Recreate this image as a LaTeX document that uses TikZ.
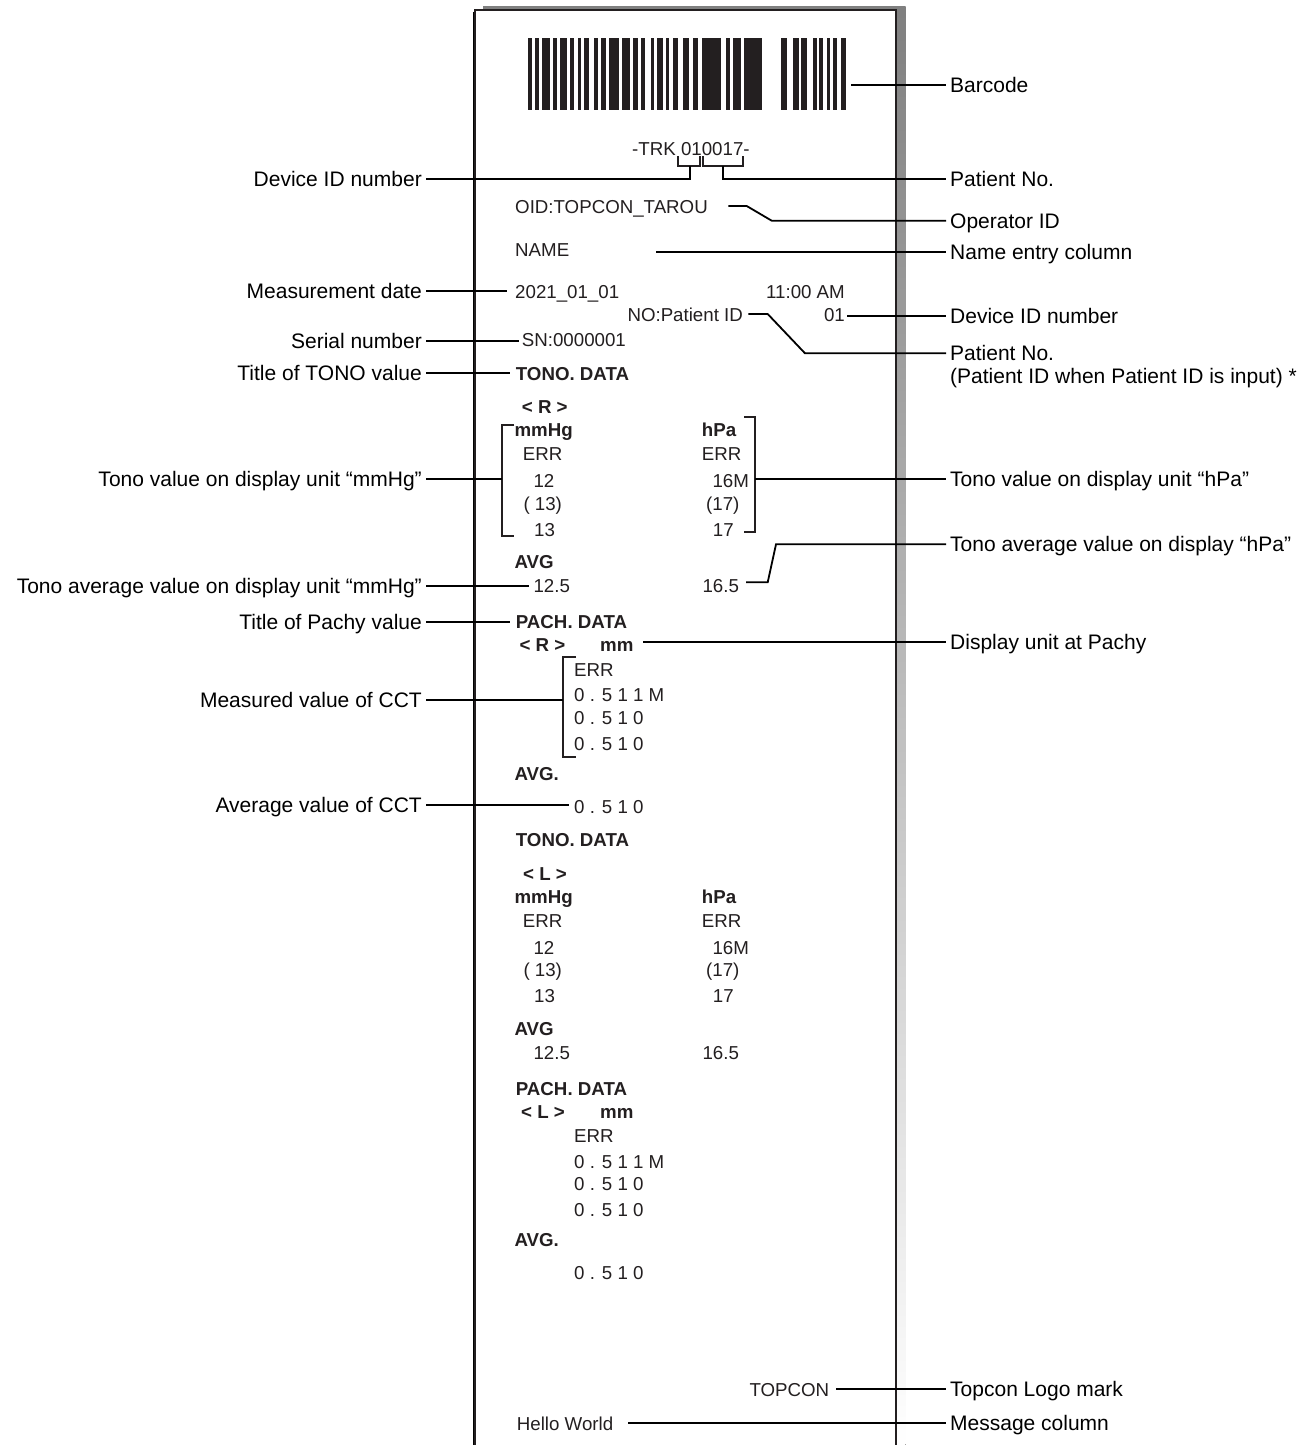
\documentclass[tikz,border=0pt]{standalone}
\usepackage{fontspec}
\setmainfont{Liberation Sans}
\definecolor{ink}{RGB}{35,31,32}
\definecolor{shade}{RGB}{153,154,158}
\begin{document}
\begin{tikzpicture}[x=1pt,y=-1pt,
  lbl/.style={font=\fontsize{21}{25}\selectfont, text=black, text height=15pt, text depth=0pt, inner ysep=0pt, inner xsep=4pt},
  rlab/.style={lbl, anchor=west},
  llab/.style={lbl, anchor=east},
  ptxt/.style={font=\fontsize{18.7}{22}\selectfont, text=ink, inner sep=0pt, anchor=base west},
  ptxte/.style={ptxt, anchor=base east},
  pbld/.style={ptxt, font=\fontsize{18.7}{22}\selectfont\bfseries},
  conn/.style={line width=1.8pt, black},
  brk/.style={line width=1.8pt, ink},
]
\useasboundingbox (0,0) rectangle (1313,1445);
% paper
\fill[shade] (483,6.7) rectangle (905.7,1445);
\fill[white] (474.5,10) rectangle (896,1445);
\draw[shade, line width=1pt] (473,12) -- (473,1445);
\draw[ink, line width=2pt] (474.5,1445) -- (474.5,10) -- (896,10) -- (896,1445);
% barcode
\foreach \a/\b in {528/532.3,535/539.3,542/550,552.7/557.3,560/566.7,570/574,578/581.3,584/588.7,594/598,600.7/606,608.7/618.7,622/630,632.7/638,641.3/644.7,650.7/654,657.3/662.7,666/669.3,672.7/678,682.7/689.3,692.7/698,702/721,726/730,733.3/740.7,744/762,780.7/786.7,792.7/798.7,800.7/807.3,813.3/816.7,819.3/823.3,826.7/830,833.3/836.7,841.3/846}
  \fill[ink] (\a,38) rectangle (\b,110);
% paper texts
\node[ptxt] (trk) at (632,155) {-TRK 010017-};
\node[ptxt] (oid) at (515,213.3) {OID:TOPCON\_TAROU};
\node[ptxt] (name) at (515,256.7) {NAME};
\node[ptxt] (date) at (515,298.3) {2021\_01\_01};
\node[ptxte] (time) at (845,298.3) {11:00 AM};
\node[ptxt] (noid) at (627.3,321.7) {NO:Patient ID};
\node[ptxte] (dev) at (845,321.7) {01};
\node[ptxt] (sn) at (521.7,346.7) {SN:0000001};
% R tono
\node[pbld] (tonoR) at (515.7,380) {TONO. DATA};
\node[pbld] (eyeR) at (521.7,413.3) {< R >};
\node[pbld] (mmhgR) at (514.3,436.7) {mmHg};
\node[pbld] (hpaR) at (701.7,436.7) {hPa};
\node[ptxt] (errmR) at (522.7,460.7) {ERR};
\node[ptxt] (errhR) at (701.7,460.7) {ERR};
\node[ptxt] (m1R) at (533.3,487.3) {12};
\node[ptxt] (h1R) at (712.3,487.3) {16M};
\node[ptxt] (m2R) at (523.3,510) {( 13)};
\node[ptxt] (h2R) at (706,510) {(17)};
\node[ptxt] (m3R) at (534,536) {13};
\node[ptxt] (h3R) at (712.7,536) {17};
\node[pbld] (avgR) at (514.3,568.3) {AVG};
\node[ptxt] (avgmR) at (533.3,592.7) {12.5};
\node[ptxt] (avghR) at (702.3,592.7) {16.5};
% R pachy
\node[pbld] (pachR) at (515.7,628.3) {PACH. DATA};
\node[pbld] (peyeR) at (519.3,651.7) {< R >};
\node[pbld] (pmmR) at (600,651.7) {mm};
\node[ptxt] (perrR) at (574,676) {ERR};
\node[ptxt] (p1R) at (574,701.7) {0 . 5 1 1 M};
\node[ptxt] (p2R) at (574,724) {0 . 5 1 0};
\node[ptxt] (p3R) at (574,750) {0 . 5 1 0};
\node[pbld] (pavgR) at (514.3,780) {AVG.};
\node[ptxt] (pavgvR) at (574,813) {0 . 5 1 0};
% L tono
\node[pbld] (tonoL) at (515.7,846.7) {TONO. DATA};
\node[pbld] (eyeL) at (523,880) {< L >};
\node[pbld] (mmhgL) at (514.3,903.4) {mmHg};
\node[pbld] (hpaL) at (701.7,903.4) {hPa};
\node[ptxt] (errmL) at (522.7,927.4) {ERR};
\node[ptxt] (errhL) at (701.7,927.4) {ERR};
\node[ptxt] (m1L) at (533.3,954) {12};
\node[ptxt] (h1L) at (712.3,954) {16M};
\node[ptxt] (m2L) at (523.3,976.7) {( 13)};
\node[ptxt] (h2L) at (706,976.7) {(17)};
\node[ptxt] (m3L) at (534,1002.7) {13};
\node[ptxt] (h3L) at (712.7,1002.7) {17};
\node[pbld] (avgL) at (514.3,1035) {AVG};
\node[ptxt] (avgmL) at (533.3,1059.4) {12.5};
\node[ptxt] (avghL) at (702.3,1059.4) {16.5};
% L pachy
\node[pbld] (pachL) at (515.7,1095) {PACH. DATA};
\node[pbld] (peyeL) at (521,1118.4) {< L >};
\node[pbld] (pmmL) at (600,1118.4) {mm};
\node[ptxt] (perrL) at (574,1142.7) {ERR};
\node[ptxt] (p1L) at (574,1168.4) {0 . 5 1 1 M};
\node[ptxt] (p2L) at (574,1190.7) {0 . 5 1 0};
\node[ptxt] (p3L) at (574,1216.7) {0 . 5 1 0};
\node[pbld] (pavgL) at (514.3,1246.7) {AVG.};
\node[ptxt] (pavgvL) at (574,1279.7) {0 . 5 1 0};
% footer
\node[ptxt] (topcon) at (749.3,1396.7) {TOPCON};
\node[ptxt] (hello) at (516.7,1430) {Hello World};
% brackets
\draw[brk] (677.7,156) -- (677.7,166) -- (700,166) -- (700,156);
\draw[brk] (703.3,156) -- (703.3,166) -- (743.3,166) -- (743.3,156);
\draw[brk] (514.3,425) -- (502.3,425) -- (502.3,535.7) -- (514.3,535.7);
\draw[brk] (744,417.3) -- (755,417.3) -- (755,532.3) -- (744,532.3);
\draw[brk] (576,657.3) -- (562.7,657.3) -- (562.7,756.7) -- (576,756.7);
% connector anchors
\coordinate (bc) at (851,85);
\coordinate (b1) at (690,166);
\coordinate (b2) at (723.3,166);
\coordinate (oidE) at (728.3,206);
\coordinate (nameE) at (656,252.3);
\coordinate (dateW) at (506.7,291);
\coordinate (noidE) at (748.3,314);
\coordinate (devE) at (847,316);
\coordinate (snW) at (519.3,341);
\coordinate (tonoW) at (510,372.7);
\coordinate (brL) at (502.3,479.3);
\coordinate (brR) at (755,479.3);
\coordinate (avgmW) at (529.3,586);
\coordinate (avghE) at (746,582.3);
\coordinate (pachW) at (510,621.7);
\coordinate (pmmE) at (643.3,642.3);
\coordinate (brC) at (562.7,700);
\coordinate (pavgW) at (569.3,805);
\coordinate (topconE) at (836,1389.3);
\coordinate (helloE) at (628.3,1422.7);
% right labels
\node[rlab] (lBarcode) at (946,85) {Barcode};
\node[rlab] (lPat1) at (946,178.7) {Patient No.};
\node[rlab] (lOper) at (946,220.7) {Operator ID};
\node[rlab] (lName) at (946,252.3) {Name entry column};
\node[rlab] (lDev2) at (946,316) {Device ID number};
\node[rlab] (lPat2) at (946,353.3) {Patient No.};
\node[rlab] (lPat2b) at (946,376.3) {(Patient ID when Patient ID is input) *};
\node[rlab] (lHpa) at (946,479.3) {Tono value on display unit “hPa”};
\node[rlab] (lAvgHpa) at (946,544.3) {Tono average value on display “hPa”};
\node[rlab] (lUnit) at (946,642.3) {Display unit at Pachy};
\node[rlab] (lLogo) at (946,1389.3) {Topcon Logo mark};
\node[rlab] (lMsg) at (946,1422.7) {Message column};
% left labels
\node[llab] (lDev1) at (426,178.7) {Device ID number};
\node[llab] (lMeas) at (426,291) {Measurement date};
\node[llab] (lSerial) at (426,341) {Serial number};
\node[llab] (lTono) at (426,372.7) {Title of TONO value};
\node[llab] (lMmhg) at (426,479.3) {Tono value on display unit “mmHg”};
\node[llab] (lAvgMmhg) at (426,586) {Tono average value on display unit “mmHg”};
\node[llab] (lPach) at (426,621.7) {Title of Pachy value};
\node[llab] (lCCT) at (426,700) {Measured value of CCT};
\node[llab] (lAvgCCT) at (426,805) {Average value of CCT};
% connectors
\draw[conn] (bc) -- (lBarcode.west);
\draw[conn] (b1) |- (lDev1.east);
\draw[conn] (b2) |- (lPat1.west);
\draw[conn] (oidE) -- ++(18.4,0) -- (771.7,220.7) -- (lOper.west);
\draw[conn] (nameE) -- (lName.west);
\draw[conn] (lMeas.east) -- (dateW);
\draw[conn] (noidE) -- ++(19.4,0) -- (805,353.3) -- (lPat2.west);
\draw[conn] (devE) -- (lDev2.west);
\draw[conn] (lSerial.east) -- (snW);
\draw[conn] (lTono.east) -- (tonoW);
\draw[conn] (lMmhg.east) -- (brL);
\draw[conn] (brR) -- (lHpa.west);
\draw[conn] (lAvgMmhg.east) -- (avgmW);
\draw[conn] (avghE) -- ++(21.7,0) -- (776,544.3) -- (lAvgHpa.west);
\draw[conn] (lPach.east) -- (pachW);
\draw[conn] (pmmE) -- (lUnit.west);
\draw[conn] (lCCT.east) -- (brC);
\draw[conn] (lAvgCCT.east) -- (pavgW);
\draw[conn] (topconE) -- (lLogo.west);
\draw[conn] (helloE) -- (lMsg.west);
\end{tikzpicture}
\end{document}
